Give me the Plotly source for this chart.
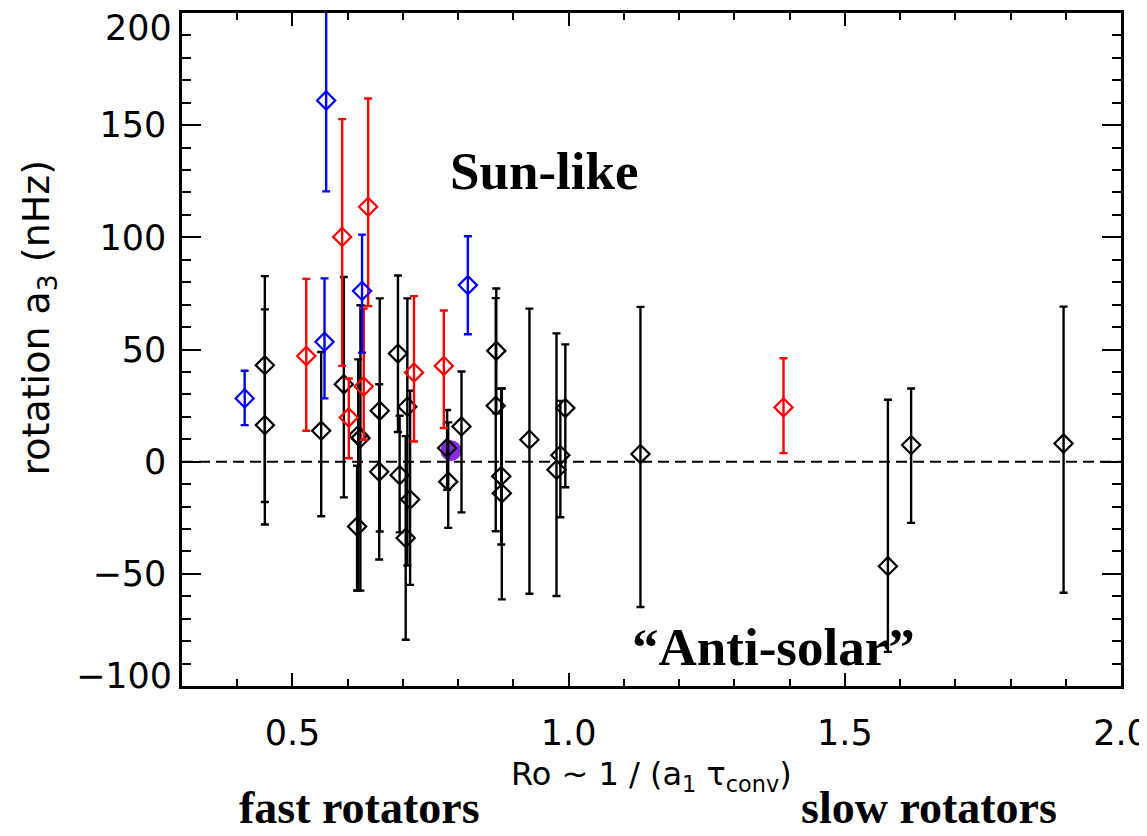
import plotly.graph_objects as go

# ---------------- data ----------------
black_x = [0.450, 0.450, 0.552, 0.593, 0.617, 0.619, 0.623, 0.658, 0.657, 0.691,
           0.694, 0.708, 0.705, 0.713, 0.780, 0.782, 0.806, 0.869, 0.868, 0.878,
           0.879, 0.929, 0.978, 0.985, 0.994, 1.130, 1.578, 1.620, 1.896]
black_y = [43.0, 16.3, 13.8, 34.5, -28.9, 11.8, 10.5, 22.7, -4.5, 48.2,
           -6.0, 24.5, -34.0, -16.9, 6.1, -8.9, 15.7, 49.4, 24.9, -6.5,
           -14.1, 9.8, -3.6, 2.9, 23.9, 3.4, -46.6, 7.4, 8.1]
black_up = [39.7, 51.6, 35.1, 47.8, 27.1, 33.8, 59.2, 50.1, 39.0, 34.8,
            26.5, 48.3, 45.4, 48.5, 16.9, 26.4, 24.5, 27.8, 48.0, 39.1,
            46.7, 58.4, 60.8, 24.2, 28.4, 65.6, 74.2, 25.2, 61.0]
black_dn = [61.0, 44.3, 38.1, 50.4, 28.5, 69.2, 68.0, 53.8, 39.1, 35.0,
            25.5, 70.8, 45.4, 38.0, 18.6, 20.6, 38.3, 27.8, 55.9, 30.4,
            47.3, 68.7, 56.3, 27.7, 35.3, 68.2, 38.2, 34.7, 66.5]

red_x = [0.525, 0.590, 0.602, 0.629, 0.637, 0.720, 0.774, 1.389]
red_y = [47.1, 100.2, 19.7, 33.5, 113.6, 39.7, 42.7, 24.2]
red_up = [34.4, 52.5, 17.4, 34.7, 48.3, 34.1, 24.7, 21.9]
red_dn = [33.3, 57.5, 18.2, 23.7, 44.2, 30.7, 27.7, 20.4]

blue_x = [0.4135, 0.558, 0.561, 0.626, 0.8175]
blue_y = [28.2, 53.4, 161.0, 76.1, 78.7]
blue_up = [12.3, 28.3, 41.0, 25.1, 21.8]
blue_dn = [11.9, 25.2, 40.5, 27.5, 21.9]

sun_x = [0.787]
sun_y = [4.9]

x_ticks = [0.5, 1.0, 1.5, 2.0]
y_ticks = [-100, -50, 0, 50, 100, 150, 200]

SANS = "DejaVu Sans"
SERIF = "Liberation Serif"
TICK_SIZE = 35


def fmt_y(v):
    return ("\u2212" + str(abs(v))) if v < 0 else str(v)


fig = go.Figure()

# Sun (purple filled circle)
fig.add_trace(go.Scatter(x=sun_x, y=sun_y, mode="markers",
                         marker=dict(symbol="circle", size=21, color="#8A2BE2",
                                     line=dict(width=0)),
                         hoverinfo="skip"))


def add_series(xs, ys, up, dn, color):
    fig.add_trace(go.Scatter(
        x=xs, y=ys, mode="markers",
        marker=dict(symbol="diamond-open", size=14, color=color,
                    line=dict(width=2.2, color=color)),
        error_y=dict(type="data", symmetric=False, array=up, arrayminus=dn,
                     color=color, thickness=2.4, width=4),
    ))


add_series(black_x, black_y, black_up, black_dn, "black")
add_series(red_x, red_y, red_up, red_dn, "#FF0000")
add_series(blue_x, blue_y, blue_up, blue_dn, "#0000FF")

# dashed zero line
fig.add_shape(type="line", xref="paper", x0=0, x1=1, yref="y", y0=0, y1=0,
              line=dict(color="black", width=2, dash="11px,6px"), layer="below")

# end labels of the y axis sit inside the axis range (as in the reference),
# so they are drawn as annotations; the inner ones come from the axis
inner_y = y_ticks[1:-1]

fig.update_xaxes(range=[0.3, 2.0], tickvals=x_ticks,
                 ticktext=[f"{v:.1f}" for v in x_ticks],
                 ticks="inside", ticklen=13, tickwidth=2, tickcolor="black",
                 minor=dict(ticks="inside", ticklen=7, tickwidth=2, dtick=0.1,
                            tick0=0.3, tickcolor="black", showgrid=False),
                 showline=True, linewidth=2.5, linecolor="black", mirror="allticks",
                 showgrid=False, zeroline=False, automargin=False,
                 ticklabeloverflow="allow",
                 tickfont=dict(family=SANS, size=TICK_SIZE, color="black"),
                 ticklabelstandoff=14)
fig.update_yaxes(range=[-100, 200], tickvals=inner_y,
                 ticktext=[fmt_y(v) for v in inner_y],
                 ticks="inside", ticklen=19, tickwidth=2, tickcolor="black",
                 minor=dict(ticks="inside", ticklen=9, tickwidth=2, dtick=10,
                            tick0=0, tickcolor="black", showgrid=False),
                 showline=True, linewidth=2.5, linecolor="black", mirror="allticks",
                 showgrid=False, zeroline=False, automargin=False,
                 ticklabeloverflow="allow",
                 tickfont=dict(family=SANS, size=TICK_SIZE, color="black"),
                 ticklabelstandoff=6)

annos = [
    dict(text=fmt_y(y_ticks[-1]), xref="paper", yref="y", x=0, y=y_ticks[-1],
         xanchor="right", yanchor="top", xshift=-8, yshift=7,
         font=dict(family=SANS, size=TICK_SIZE, color="black")),
    dict(text=fmt_y(y_ticks[0]), xref="paper", yref="y", x=0, y=y_ticks[0],
         xanchor="right", yanchor="bottom", xshift=-8, yshift=-12,
         font=dict(family=SANS, size=TICK_SIZE, color="black")),
    dict(text="rotation a<sub>3</sub> (nHz)", xref="paper", yref="paper",
         x=-0.153, y=0.548, textangle=-90, xanchor="center", yanchor="middle",
         font=dict(family=SANS, size=38, color="black")),
    dict(text="Ro ~ 1 / (a<sub>1</sub> τ<sub>conv</sub>)", xref="paper", yref="paper",
         x=0.5, y=-0.133, xanchor="center", yanchor="middle",
         font=dict(family=SANS, size=32, color="black")),
    dict(text="fast rotators", xref="paper", yref="paper",
         x=0.1885, y=-0.181, xanchor="center", yanchor="middle",
         font=dict(family=SERIF, size=46, color="black", weight=700)),
    dict(text="slow rotators", xref="paper", yref="paper",
         x=0.796, y=-0.181, xanchor="center", yanchor="middle",
         font=dict(family=SERIF, size=46, color="black", weight=700)),
    dict(text="Sun-like", xref="x", yref="y", x=0.957, y=129.5,
         xanchor="center", yanchor="middle",
         font=dict(family=SERIF, size=53, color="black", weight=700)),
    dict(text="\u201cAnti-solar\u201d", xref="x", yref="y", x=1.370, y=-82.5,
         xanchor="center", yanchor="middle",
         font=dict(family=SERIF, size=53, color="black", weight=700)),
]
for a in annos:
    a["showarrow"] = False
    fig.add_annotation(**a)

fig.update_layout(width=1147, height=836,
                  margin=dict(l=174, r=34, t=5, b=158, autoexpand=False),
                  plot_bgcolor="white", paper_bgcolor="white",
                  showlegend=False)

fig.write_html("out.html")
